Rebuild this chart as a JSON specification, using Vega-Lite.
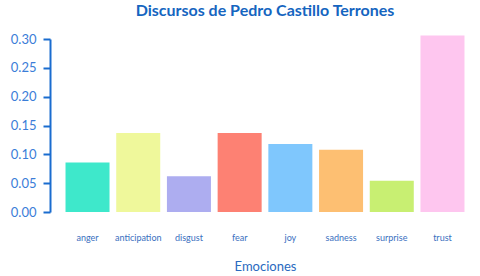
{
  "$schema": "https://vega.github.io/schema/vega-lite/v6.json",
  "autosize": {"type": "none"},
  "width": 430,
  "height": 173,
  "padding": {"left": 50, "top": 39, "right": 0, "bottom": 64},
  "background": "white",
  "title": {
    "text": "Discursos de Pedro Castillo Terrones",
    "font": "Lato",
    "fontSize": 16,
    "fontWeight": "bold",
    "color": "#1565c0",
    "anchor": "middle",
    "offset": 14
  },
  "data": {
    "values": [
      {"emocion": "anger", "valor": 0.086},
      {"emocion": "anticipation", "valor": 0.137},
      {"emocion": "disgust", "valor": 0.062},
      {"emocion": "fear", "valor": 0.137},
      {"emocion": "joy", "valor": 0.118},
      {"emocion": "sadness", "valor": 0.108},
      {"emocion": "surprise", "valor": 0.054},
      {"emocion": "trust", "valor": 0.306}
    ]
  },
  "mark": {"type": "bar", "clip": false},
  "encoding": {
    "x": {
      "field": "emocion",
      "type": "nominal",
      "sort": null,
      "title": "Emociones",
      "scale": {"paddingInner": 0.132, "paddingOuter": 0.306},
      "axis": {
        "domain": false,
        "ticks": false,
        "labelAngle": 0,
        "labelFont": "Lato",
        "labelFontSize": 9,
        "labelColor": "#3a6fc0",
        "labelPadding": 21,
        "titleFont": "Lato",
        "titleFontSize": 13,
        "titleFontWeight": "normal",
        "titleColor": "#2a6ac0",
        "titlePadding": 18
      }
    },
    "y": {
      "field": "valor",
      "type": "quantitative",
      "title": null,
      "scale": {"domain": [0, 0.3], "nice": false},
      "axis": {
        "values": [0, 0.05, 0.1, 0.15, 0.2, 0.25, 0.3],
        "format": ".2f",
        "grid": false,
        "domainColor": "#1a6ccf",
        "domainWidth": 2,
        "tickColor": "#1a6ccf",
        "tickWidth": 2,
        "tickSize": 7,
        "labelFont": "Lato",
        "labelFontSize": 13,
        "labelColor": "#3b7dd8",
        "labelPadding": 7
      }
    },
    "color": {
      "field": "emocion",
      "type": "nominal",
      "sort": null,
      "legend": null,
      "scale": {
        "domain": ["anger", "anticipation", "disgust", "fear", "joy", "sadness", "surprise", "trust"],
        "range": ["#3ee8cb", "#eff89b", "#adadf0", "#fd8173", "#7fc7fd", "#fdbf72", "#c8ef72", "#fec6ef"]
      }
    }
  },
  "config": {"view": {"stroke": null}}
}
